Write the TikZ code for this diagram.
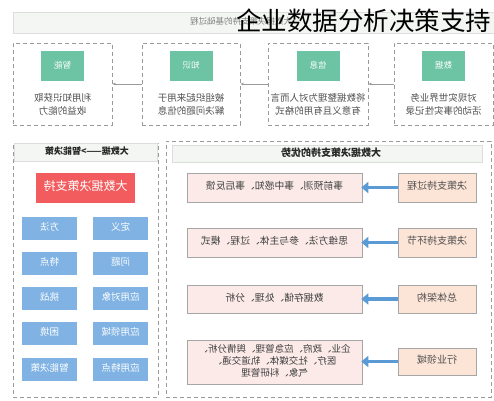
\documentclass[tikz,border=0pt]{standalone}
\usepackage{fontspec}
\setmainfont{Noto Sans CJK SC}
\usepackage{graphicx}
\usetikzlibrary{arrows.meta}
\newcommand{\mir}[1]{\reflectbox{\begin{tabular}{@{}c@{}}#1\end{tabular}}}
\definecolor{cgreen}{HTML}{6DC4A4}
\definecolor{cred}{HTML}{F25C5E}
\definecolor{cblue}{HTML}{80B3E3}
\definecolor{cpeach}{HTML}{FCE4D6}
\definecolor{cpink}{HTML}{FBEAE8}
\definecolor{chead}{HTML}{F3F6F2}
\definecolor{cdash}{HTML}{9A9A9A}
\definecolor{carrow}{HTML}{5B9BD5}
\definecolor{ctext}{HTML}{505050}
\tikzset{
  dashbox/.style={draw=cdash, dash pattern=on 4pt off 3pt, line width=0.9pt, minimum width=99pt, minimum height=82pt, inner sep=0pt},
  greenlbl/.style={fill=cgreen, text=white, minimum width=43pt, minimum height=30pt, inner sep=0pt, font=\fontsize{8.5}{10}\selectfont},
  toptxt/.style={text=ctext, inner sep=0pt, font=\fontsize{9.5}{13}\selectfont},
  conn/.style={draw=cdash, line width=0.8pt, -{Latex[length=3pt,width=3pt]}},
  headbar/.style={fill=chead, draw=chead!80!gray, line width=0.3pt, inner sep=0pt},
  redbox/.style={fill=cred, text=white, minimum width=99pt, minimum height=30pt, inner sep=0pt, font=\fontsize{12}{14}\selectfont},
  bluebox/.style={fill=cblue, text=white, minimum width=55pt, minimum height=23pt, inner sep=0pt, font=\fontsize{9.5}{11}\selectfont},
  peachbox/.style={fill=cpeach, draw=gray!70, line width=0.6pt, minimum width=78pt, inner sep=0pt, text=ctext, font=\fontsize{10}{12}\selectfont},
  pinkbox/.style={fill=cpink, draw=gray!70, line width=0.6pt, minimum width=175pt, inner sep=0pt, text=ctext!80!black, font=\fontsize{9.8}{12}\selectfont},
  bigarrow/.style={draw=carrow, line width=3.5pt, -{Triangle[length=7pt,width=11pt]}, shorten >=-1pt}
}
\begin{document}
\begin{tikzpicture}[x=1pt,y=-1pt]
\useasboundingbox[fill=white] (0,0) rectangle (494,400);
% top header
\node[headbar, minimum width=481pt, minimum height=21pt] (tophead) at (253.5,22.5) {};
\node[text=gray, font=\fontsize{8.5}{10}\selectfont] (tophtxt) at (241,22.5) {\mir{大数据决策支持的基础过程}};
% top boxes
\node[dashbox] (t1) at (62.5,84) {};
\node[dashbox, minimum width=98pt] (t2) at (191,84) {};
\node[dashbox, minimum width=100pt] (t3) at (318,84) {};
\node[dashbox] (t4) at (443.5,84) {};
\node[greenlbl] (g1) at (62.5,66) {\mir{智能}};
\node[greenlbl] (g2) at (191,66) {\mir{知识}};
\node[greenlbl] (g3) at (318,66) {\mir{信息}};
\node[greenlbl] (g4) at (443.5,66) {\mir{数据}};
\node[toptxt] (d1) at (62.5,105.5) {\mir{利用知识获取\\收益的能力}};
\node[toptxt] (d2) at (191,105.5) {\mir{被组织起来用于\\解决问题的信息}};
\node[toptxt] (d3) at (318,105.5) {\mir{将数据整理为对人而言\\有意义且有用的格式}};
\node[toptxt] (d4) at (443.5,105.5) {\mir{对现实世界业务\\活动的事实性记录}};
\draw[conn] (t2.west) -- (t1.east);
\draw[conn] (t3.west) -- (t2.east);
\draw[conn] (t4.west) -- (t3.east);
% left panel
\node[draw=cdash, dash pattern=on 4pt off 3pt, line width=0.9pt, minimum width=145pt, minimum height=254pt, inner sep=0pt] (lpanel) at (85.5,270) {};
\node[headbar, minimum width=143pt, minimum height=18pt] (lhead) at (85.5,152) {};
\node[font=\fontsize{9}{11}\selectfont\bfseries, text=black!85] (lhtxt) at (87,152) {\mir{大数据——>智能决策}};
\node[redbox] (red) at (85.5,188) {\mir{大数据决策支持}};
\node[bluebox] (b11) at (120.5,228.5) {\mir{定义}};
\node[bluebox] (b12) at (49.5,228.5) {\mir{方法}};
\node[bluebox] (b21) at (120.5,263.5) {\mir{问题}};
\node[bluebox] (b22) at (49.5,263.5) {\mir{特点}};
\node[bluebox] (b31) at (120.5,298) {\mir{应用对象}};
\node[bluebox] (b32) at (49.5,298) {\mir{挑战}};
\node[bluebox] (b41) at (120.5,333) {\mir{应用领域}};
\node[bluebox] (b42) at (49.5,333) {\mir{困境}};
\node[bluebox] (b51) at (120.5,369.5) {\mir{应用特点}};
\node[bluebox] (b52) at (49.5,369.5) {\mir{智能决策}};
% right panel
\node[draw=cdash, dash pattern=on 4pt off 3pt, line width=0.9pt, minimum width=325pt, minimum height=256pt, inner sep=0pt] (rpanel) at (328.5,269) {};
\node[headbar, minimum width=310pt, minimum height=17pt] (rhead) at (327,153.5) {};
\node[font=\fontsize{10}{12}\selectfont\bfseries, text=black!85] (rhtxt) at (331,154) {\mir{大数据决策支持的优势}};
\node[peachbox, minimum height=29pt] (s1) at (437,187.5) {\mir{决策支持过程}};
\node[peachbox, minimum height=29pt] (s2) at (437,242.5) {\mir{决策支持环节}};
\node[peachbox, minimum height=28pt] (s3) at (437,299) {\mir{总体架构}};
\node[peachbox, minimum height=27pt] (s4) at (437,361.5) {\mir{行业领域}};
\node[pinkbox, minimum height=29pt] (p1) at (274.5,187.5) {\mir{事前预测、事中感知、事后反馈}};
\node[pinkbox, minimum height=29pt] (p2) at (274.5,242.5) {\mir{思维方法、参与主体、过程、模式}};
\node[pinkbox, minimum height=28pt] (p3) at (274.5,299) {\mir{数据存储、处理、分析}};
\node[pinkbox, minimum height=44pt, font=\fontsize{9.5}{12}\selectfont] (p4) at (274.5,362) {\mir{企业、政府、应急管理、舆情分析、\\医疗、社交媒体、轨道交通、\\气象、科研管理}};
\draw[bigarrow] (s1.west) -- (p1.east);
\draw[bigarrow] (s2.west) -- (p2.east);
\draw[bigarrow] (s3.west) -- (p3.east);
\draw[bigarrow] (s4.west) -- (p4.east|-s4.west);
% title
\node[anchor=west, inner sep=0pt, font=\fontsize{25.5}{27}\selectfont, text=black] (title) at (236,21) {企业数据分析决策支持};
\end{tikzpicture}
\end{document}
